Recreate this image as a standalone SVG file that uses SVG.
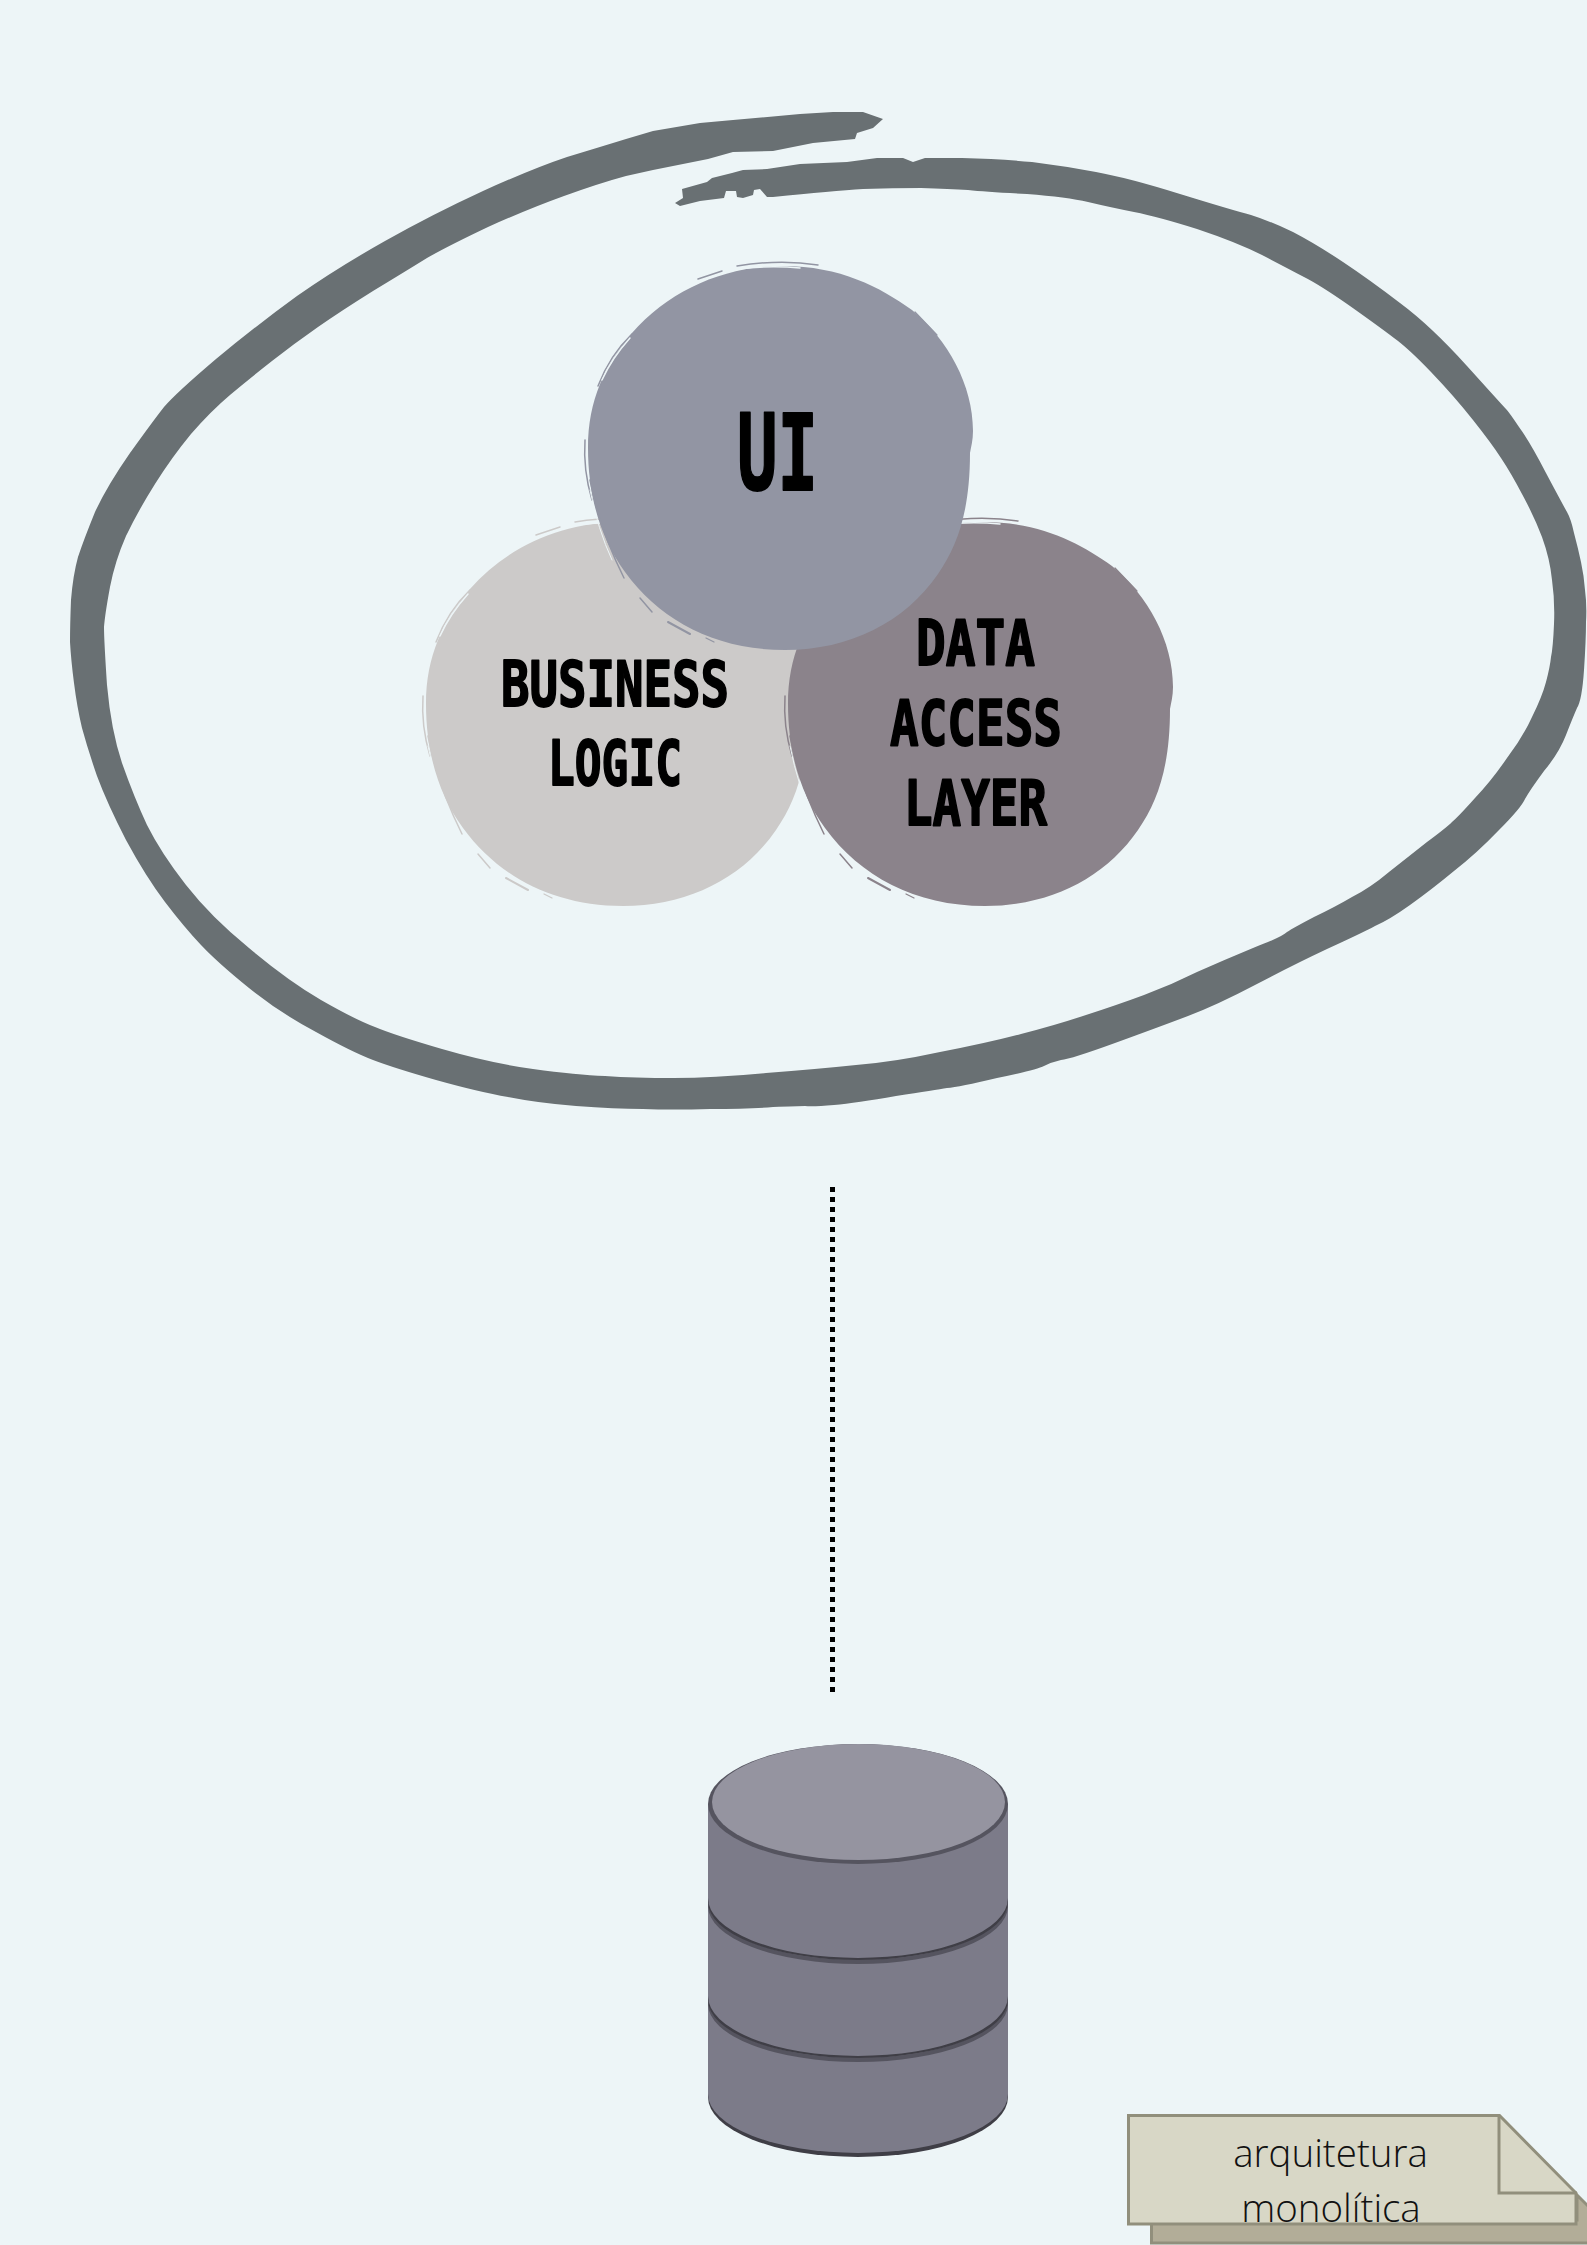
<svg xmlns="http://www.w3.org/2000/svg" width="1587" height="2245" viewBox="0 0 1587 2245">
<style>
.lbl{font-family:"DejaVu Sans Mono","Liberation Mono",monospace;font-weight:700;fill:#000;stroke:#000;stroke-width:1.800px;stroke-linejoin:round}
.note{font-family:"Open Sans","Noto Sans",sans-serif;font-weight:300;font-size:38.500px;fill:#111;text-anchor:middle}
.edge{fill:none;stroke:currentColor;stroke-linecap:round}
.gap{fill:none;stroke:#edf5f7;stroke-linecap:round}
.body{fill:#7c7b89}.rim{fill:#55545f}.dark{fill:#3f3e46}
.paper{stroke:#918f7c;stroke-width:3;stroke-linejoin:miter}
</style>
<defs>
<g id="blob">
<path fill="currentColor" d="M783 266C840 266 880 287 912 310C948 340 973 385 973 431C973 440 971 447 970 453C970 510 958 545 938 574C905 622 850 650 785 650C715 650 660 620 625 572C600 538 588 495 588 448C588 400 605 365 632 333C670 290 725 266 783 266Z"/>
<path class="edge" stroke-width="1.500" d="M737 266Q780 259 818 265"/>
<path class="edge" stroke-width="1.500" d="M698 279L722 271"/>
<path class="edge" stroke-width="1.200" d="M915 312L937 335"/>
<path class="edge" stroke-width="1.500" d="M598 386Q610 355 632 334"/>
<path class="edge" stroke-width="1.500" d="M585 440Q583 470 592 500"/>
<path class="edge" stroke-width="1.500" d="M590 480Q600 530 624 578"/>
<path class="edge" stroke-width="1.500" d="M640 598L652 612"/>
<path class="edge" stroke-width="2" d="M668 622L690 634"/>
<path class="edge" stroke-width="1.200" d="M706 638L714 642"/>
<path class="gap" stroke-width="1.500" d="M738 269Q770 265 800 268"/>
<path class="gap" stroke-width="1.500" d="M602 380Q612 358 630 338"/>
<path class="gap" stroke-width="1" d="M590 490Q598 530 612 560"/>
</g>
</defs>
<rect id="background" width="1587" height="2245" fill="#edf5f7"/>
<path id="ring" fill="#697073" d="M883 119L863 112 833 112 800 114 733 120 700 123 653 131 626 139Q600 147 567 157Q534 168 483 191Q433 214 385 241Q337 268 297 296Q257 325 216 359Q176 393 164 407Q153 421 130 453Q107 486 95 512Q84 539 78 557Q73 575 71 600Q70 625 70 642Q71 660 74 683Q77 707 82 728Q88 750 97 776Q107 803 126 840Q146 877 165 902Q184 927 201 945Q218 963 249 988Q280 1013 316 1032Q352 1052 373 1060Q394 1068 436 1080Q479 1092 508 1097Q538 1103 576 1106Q615 1109 643 1109Q672 1110 710 1109Q749 1109 773 1107Q798 1106 805 1106Q812 1107 834 1105Q856 1103 896 1096Q936 1090 947 1088Q959 1087 997 1078Q1036 1070 1044 1066Q1052 1062 1061 1060Q1071 1059 1115 1043Q1159 1027 1188 1016Q1217 1005 1255 985Q1293 965 1327 949Q1362 933 1375 926Q1389 920 1410 905Q1431 890 1454 871Q1477 853 1499 830Q1521 808 1525 799Q1530 790 1544 771Q1559 753 1566 735Q1573 717 1577 708Q1582 700 1584 670Q1586 640 1586 622Q1587 605 1585 590Q1584 576 1581 562Q1578 548 1574 533Q1571 519 1567 512Q1563 505 1546 473Q1530 442 1519 427Q1509 412 1506 409Q1504 407 1467 366Q1431 326 1400 303Q1370 280 1343 262Q1316 244 1293 232Q1270 221 1251 215Q1232 210 1180 194Q1129 178 1096 172Q1064 166 1032 162Q1000 159 962 158L925 158 913 162 903 158 877 158 847 162 800 164 767 169 743 170 732 173 712 178 707 182 682 189 683 198 675 203 680 206 700 201 724 198 726 191 736 191 737 197 743 198 753 195 754 190 760 189 767 197 773 197Q833 191 863 189Q893 188 921 188Q950 189 968 190Q987 192 1027 194Q1067 197 1088 202Q1109 207 1134 212Q1159 217 1197 229Q1236 242 1262 255Q1289 269 1304 277Q1320 285 1350 306Q1381 328 1394 338Q1408 348 1431 372Q1454 396 1473 420Q1492 444 1501 458Q1511 473 1522 494Q1534 516 1542 537Q1550 559 1552 580Q1555 601 1554 624Q1553 648 1551 657Q1550 667 1546 682Q1542 697 1532 717Q1523 737 1507 758Q1492 780 1475 798Q1458 817 1452 822Q1446 828 1427 842Q1408 857 1389 872Q1370 888 1352 897Q1335 907 1314 917Q1293 928 1287 932Q1282 937 1253 948Q1224 960 1197 972Q1171 985 1144 995Q1117 1005 1086 1015Q1056 1025 1021 1034Q987 1043 940 1052Q894 1062 856 1065Q818 1069 766 1073Q714 1078 674 1078Q634 1078 605 1076Q577 1075 533 1069Q490 1063 442 1049Q394 1035 375 1027Q356 1020 321 1000Q287 980 249 948Q211 917 186 885Q161 853 147 825Q134 797 122 763Q111 730 107 685Q104 640 104 627Q105 614 110 587Q115 561 126 536Q138 511 155 484Q172 457 191 434Q211 411 230 395Q249 379 272 361Q295 343 318 327Q341 311 373 291Q406 271 427 258Q448 246 488 227Q528 209 564 196Q600 183 626 176L653 170 708 159 733 152 773 151 813 143 855 139 857 133 873 128Z"/>
<g id="connectors">
<line x1="832.500" y1="1187" x2="832.500" y2="1693" stroke="#000" stroke-width="5" stroke-dasharray="5 5"/>
</g>
<g id="business-logic">
<use href="#blob" transform="translate(-162 256)" color="#cccac9"/>
<text class="lbl" x="501" y="706" font-size="62" textLength="228" lengthAdjust="spacingAndGlyphs">BUSINESS</text>
<text class="lbl" x="548" y="785" font-size="62" textLength="134" lengthAdjust="spacingAndGlyphs">LOGIC</text>
</g>
<g id="data-access-layer">
<use href="#blob" transform="translate(200 256)" color="#8b838b"/>
<text class="lbl" x="916" y="665" font-size="62" textLength="119" lengthAdjust="spacingAndGlyphs">DATA</text>
<text class="lbl" x="890" y="745" font-size="62" textLength="172" lengthAdjust="spacingAndGlyphs">ACCESS</text>
<text class="lbl" x="904" y="825" font-size="62" textLength="143" lengthAdjust="spacingAndGlyphs">LAYER</text>
</g>
<g id="ui">
<use href="#blob" color="#9295a3"/>
<text class="lbl" x="737" y="490" font-size="106" textLength="81" lengthAdjust="spacingAndGlyphs">UI</text>
</g>
<g id="database">
<path class="dark" d="M708 1804V2097A150 60 0 0 0 1008 2097V1804Z"/>
<path class="body" d="M708 1804V2094A150 59 0 0 0 1008 2094V1804Z"/>
<path class="rim" d="M708 1900A150 60 0 0 0 1008 1900V1906A150 58 0 0 1 708 1906Z"/>
<path class="dark" d="M708 1898A150 60 0 0 0 1008 1898V1902A150 58 0 0 1 708 1902Z"/>
<path class="rim" d="M708 1998A150 60 0 0 0 1008 1998V2004A150 58 0 0 1 708 2004Z"/>
<path class="dark" d="M708 1996A150 60 0 0 0 1008 1996V2000A150 58 0 0 1 708 2000Z"/>
<ellipse class="rim" cx="858" cy="1804" rx="150" ry="60"/>
<ellipse cx="858.500" cy="1802" rx="146.500" ry="58" fill="#9594a0"/>
</g>
<g id="note">
<path fill="#b2ad98" stroke="#918f7c" stroke-width="3" d="M1577 2195L1592 2210V2243H1151.500V2220H1577Z"/>
<path class="paper" fill="#d8d7c6" d="M1128.500 2115.500H1499.500L1576 2193V2224H1128.500Z"/>
<path class="paper" fill="none" d="M1499 2115V2193H1577"/>
<text class="note" x="1330.500" y="2167">arquitetura</text>
<text class="note" x="1331" y="2222">monolítica</text>
</g>
</svg>
